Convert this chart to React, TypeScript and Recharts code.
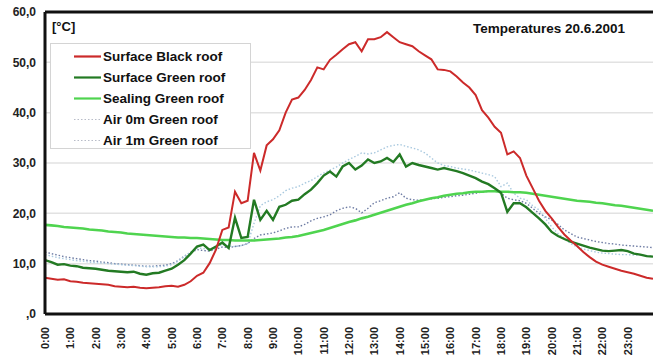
import React from "react";
import {
  LineChart,
  Line,
  XAxis,
  YAxis,
  CartesianGrid,
  ReferenceLine,
  Legend,
} from "recharts";

// quarter-hour readings, 0:00 .. 24:00
const surfaceBlack = [
  7.2, 7.0, 6.8, 6.9, 6.5, 6.4, 6.2, 6.1, 6.0, 5.9, 5.8, 5.5, 5.4, 5.3, 5.4, 5.2,
  5.1, 5.2, 5.3, 5.5, 5.6, 5.4, 5.8, 6.5, 7.6, 8.2, 10.1, 12.8, 16.7, 17.2, 24.3, 22.0,
  22.5, 32.0, 28.5, 33.5, 34.7, 36.5, 40.0, 42.6, 43.0, 44.5, 46.5, 49.0, 48.6, 50.5, 51.5, 52.6,
  53.6, 54.0, 52.2, 54.6, 54.6, 55.0, 56.0, 55.0, 54.0, 53.6, 53.2, 52.2, 51.4, 50.6, 48.6, 48.5,
  48.2, 47.2, 46.0, 45.0, 43.5, 40.5, 39.0, 37.2, 36.0, 31.7, 32.3, 31.0, 27.5, 25.0, 22.5, 20.5,
  19.0, 17.3, 15.8, 14.6, 13.5, 12.3, 11.3, 10.4, 9.8, 9.4, 9.0, 8.6, 8.3, 8.0, 7.6, 7.2, 7.0,
];

const surfaceGreen = [
  10.7, 10.3, 9.8, 9.9, 9.6, 9.5, 9.2, 9.1, 9.0, 8.8, 8.6, 8.5, 8.4, 8.3, 8.4, 8.0,
  7.8, 8.1, 8.2, 8.6, 9.0, 9.8, 10.7, 12.0, 13.4, 13.8, 12.7, 13.4, 14.2, 13.1, 19.1, 15.1,
  15.3, 22.7, 18.7, 20.5, 18.7, 21.3, 21.7, 22.5, 22.7, 23.8, 24.7, 26.0, 27.5, 28.3, 27.3, 29.3,
  30.0, 28.7, 29.5, 30.7, 30.0, 30.3, 31.0, 30.2, 31.7, 29.3, 30.0, 29.6, 29.3, 29.0, 28.7, 29.0,
  28.7, 28.4, 28.0, 27.5, 27.0, 26.3, 25.8, 25.0, 24.1, 20.3, 22.0, 22.0, 21.2, 20.1, 19.0, 17.8,
  16.3, 15.5, 14.9, 14.4, 14.0, 13.6, 13.2, 12.9, 12.6, 12.5, 12.6, 12.7, 12.5, 12.0, 11.8, 11.5, 11.4,
];

const sealingGreen = [
  17.7, 17.6, 17.5, 17.3, 17.2, 17.1, 17.0, 16.8, 16.7, 16.6, 16.4, 16.3, 16.2, 16.0, 15.9, 15.8,
  15.7, 15.6, 15.5, 15.4, 15.3, 15.2, 15.2, 15.1, 15.1, 15.0, 14.9, 14.8, 14.7, 14.7, 14.6, 14.6,
  14.6, 14.6, 14.7, 14.8, 14.9, 15.0, 15.2, 15.3, 15.5, 15.8, 16.1, 16.4, 16.7, 17.1, 17.5, 17.9,
  18.3, 18.6, 19.0, 19.3, 19.7, 20.1, 20.5, 20.9, 21.3, 21.7, 22.0, 22.4, 22.7, 23.0, 23.2, 23.5,
  23.7, 23.9, 24.0, 24.2, 24.3, 24.3, 24.4, 24.4, 24.3, 24.3, 24.2, 24.2, 24.1, 23.9, 23.7, 23.5,
  23.3, 23.1, 22.9, 22.7, 22.5, 22.4, 22.3, 22.1, 22.0, 21.8, 21.6, 21.5, 21.3, 21.1, 20.9, 20.7, 20.5,
];

const air0m = [
  11.8, 11.5, 11.2, 11.0, 10.8, 10.6, 10.5, 10.3, 10.2, 10.1, 10.0, 9.9, 9.8, 9.7, 9.6, 9.5,
  9.4, 9.4, 9.4, 9.5, 9.8, 10.5, 11.4, 12.3, 13.1, 13.0, 12.7, 13.2, 13.8, 13.5, 13.4, 13.6,
  14.0, 18.0, 21.5, 22.3, 22.7, 23.5, 24.5, 25.0, 25.3, 26.0, 26.5, 27.3, 28.0, 28.6, 29.2, 30.0,
  30.7, 31.3, 32.0, 31.8, 32.0, 32.6, 33.2, 33.5, 33.7, 33.3, 33.0, 32.6, 32.0, 31.0, 30.0, 29.5,
  29.3, 29.0, 28.8, 28.6, 28.3, 28.0, 27.7, 27.3, 25.3, 26.0, 24.0, 23.0, 22.7, 21.5, 20.7, 19.0,
  17.3, 16.0, 15.0, 14.0, 13.3, 12.9, 12.6, 12.3, 12.1, 12.0, 11.9, 11.8, 11.8, 11.7, 11.7, 11.6, 11.5,
];

const air1m = [
  12.3, 12.0, 11.7, 11.4, 11.2, 11.0, 10.8, 10.6, 10.5, 10.3, 10.2, 10.0, 9.9, 9.8, 9.7, 9.6,
  9.5, 9.5, 9.6, 9.7, 10.0, 10.6, 11.5, 12.2, 12.8, 12.6, 12.5, 12.9, 13.3, 13.2, 13.4, 13.6,
  14.0, 15.0, 15.7, 15.9, 16.1, 16.5, 17.0, 17.3, 17.3, 17.8, 18.5, 19.0, 19.3, 19.7, 20.5, 21.0,
  21.3, 21.0, 20.1, 21.0, 22.1, 22.5, 23.0, 23.3, 24.1, 23.0, 22.7, 22.6, 22.7, 22.9, 23.0, 23.2,
  23.3, 23.5, 23.6, 23.8, 24.0, 24.2, 24.4, 24.5, 24.0, 23.0, 22.7, 22.5, 22.0, 21.0, 20.0, 19.3,
  18.7, 17.8, 16.7, 16.0, 15.3, 15.0, 14.7, 14.4, 14.2, 14.0, 13.9, 13.7, 13.6, 13.5, 13.4, 13.3, 13.2,
];

const hourTicks = [
  0, 1, 2, 3, 4, 5, 6, 7, 8, 9, 10, 11, 12, 13, 14, 15, 16, 17, 18, 19, 20, 21, 22, 23,
];
const tempTicks = [0, 10, 20, 30, 40, 50, 60];

const series = [
  { key: "black", name: "Surface Black roof", color: "#cc2a2a", width: 2, dash: undefined },
  { key: "green", name: "Surface Green roof", color: "#237a23", width: 2.4, dash: undefined },
  { key: "sealing", name: "Sealing Green roof", color: "#4fd44f", width: 2.6, dash: undefined },
  { key: "air0", name: "Air 0m Green roof", color: "#a9c9df", width: 1.4, dash: "1.5 2" },
  { key: "air1", name: "Air 1m Green roof", color: "#6d7ba3", width: 1.4, dash: "1.5 2" },
];

const data = surfaceBlack.map((v, i) => ({
  t: i / 4,
  black: v,
  green: surfaceGreen[i],
  sealing: sealingGreen[i],
  air0: air0m[i],
  air1: air1m[i],
}));

const FONT = '"Liberation Sans", Arial, sans-serif';

const HourTick = (props: any) => {
  const { x, y, payload } = props;
  return (
    <g transform={`translate(${x},${y})`}>
      <text
        transform="rotate(-90)"
        x={-5}
        y={0}
        dy="0.36em"
        textAnchor="end"
        fontFamily={FONT}
        fontWeight="bold"
        fontSize={11}
        fill="#222"
      >
        {`${payload.value}:00`}
      </text>
    </g>
  );
};

const LegendBox = () => (
  <div
    style={{
      width: 201,
      height: 106,
      boxSizing: "border-box",
      background: "#fff",
      border: "1px solid #d4d4d4",
      paddingTop: 2,
      fontFamily: FONT,
      fontWeight: "bold",
      fontSize: 13.5,
      color: "#111",
    }}
  >
    {series.map((s) => (
      <div
        key={s.key}
        style={{ height: 21, display: "flex", alignItems: "center" }}
      >
        <svg width={52} height={21} style={{ flexShrink: 0 }}>
          <line
            x1={23}
            x2={50}
            y1={10.5}
            y2={10.5}
            stroke={s.key.startsWith("air") ? "#b8bcc8" : s.color}
            strokeWidth={s.dash ? 1.2 : 2.2}
            strokeDasharray={s.dash}
          />
        </svg>
        <span style={{ whiteSpace: "nowrap" }}>{s.name}</span>
      </div>
    ))}
  </div>
);

export default function App() {
  return (
    <div
      style={{
        position: "fixed",
        left: 0,
        top: 0,
        width: 653,
        height: 358,
        background: "#fff",
        overflow: "hidden",
      }}
    >
      <LineChart
        width={653}
        height={358}
        data={data}
        margin={{ top: 12, right: 0, left: 0, bottom: 0 }}
      >
        <CartesianGrid vertical={false} stroke="#e2e2e2" strokeWidth={1.5} />
        <XAxis
          dataKey="t"
          type="number"
          domain={[0, 24]}
          ticks={hourTicks}
          interval={0}
          height={44}
          tick={<HourTick />}
          tickLine={false}
          axisLine={{ stroke: "#111", strokeWidth: 3 }}
        />
        <YAxis
          domain={[0, 60]}
          ticks={tempTicks}
          width={45}
          interval={0}
          tickLine={false}
          axisLine={{ stroke: "#111", strokeWidth: 3 }}
          tickFormatter={(v: number) => (v === 0 ? ",0" : `${v},0`)}
          tick={{ fontFamily: FONT, fontWeight: "bold", fontSize: 12, fill: "#222", dx: -1 }}
        />
        <ReferenceLine y={60} stroke="#111" strokeWidth={3} />
        <Legend
          layout="horizontal"
          verticalAlign="middle"
          align="center"
          content={() => <LegendBox />}
          wrapperStyle={{ position: "absolute", left: 50, top: 43, width: 201, height: 106 }}
        />
        {series
          .slice()
          .reverse()
          .map((s) => (
            <Line
              key={s.key}
              type="linear"
              dataKey={s.key}
              name={s.name}
              stroke={s.color}
              strokeWidth={s.width}
              strokeDasharray={s.dash}
              dot={false}
              activeDot={false}
              isAnimationActive={false}
            />
          ))}
      </LineChart>
      <div
        style={{
          position: "absolute",
          left: 52,
          top: 19,
          fontFamily: FONT,
          fontWeight: "bold",
          fontSize: 13,
          color: "#111",
        }}
      >
        [°C]
      </div>
      <div
        style={{
          position: "absolute",
          left: 473,
          top: 21,
          fontFamily: FONT,
          fontWeight: "bold",
          fontSize: 13.5,
          color: "#111",
        }}
      >
        Temperatures 20.6.2001
      </div>
    </div>
  );
}
